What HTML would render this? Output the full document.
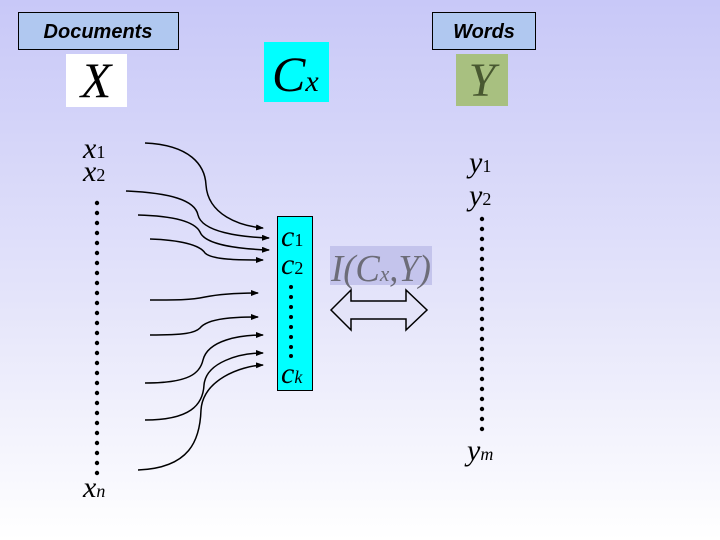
<!DOCTYPE html>
<html><head><meta charset="utf-8"><style>
html,body{margin:0;padding:0;width:720px;height:540px;overflow:hidden;}
html{background:linear-gradient(#c8c8f8 0%,#e4e4fa 55%,#ffffff 100%) no-repeat;background-size:720px 540px;}
svg{display:block;}
</style></head><body>
<svg width="720" height="540" xmlns="http://www.w3.org/2000/svg">
<defs>
<marker id="ah" markerWidth="8" markerHeight="6" refX="7" refY="3" orient="auto" markerUnits="userSpaceOnUse">
<path d="M0,0 L8,3 L0,6 Z" fill="#000"/></marker>
</defs>
<rect x="18.5" y="12.5" width="160" height="37" fill="#b0c8f0" stroke="#000"/>
<text x="98" y="38" text-anchor="middle" font-family="Liberation Sans" font-style="italic" font-weight="bold" font-size="20">Documents</text>
<rect x="432.5" y="12.5" width="103" height="37" fill="#b0c8f0" stroke="#000"/>
<text x="484" y="38" text-anchor="middle" font-family="Liberation Sans" font-style="italic" font-weight="bold" font-size="20">Words</text>
<rect x="66" y="54" width="61" height="53" fill="#fff"/>
<text x="96" y="97" text-anchor="middle" font-family="Liberation Serif" font-style="italic" font-size="50">X</text>
<rect x="264" y="42" width="65" height="60" fill="#00ffff"/>
<text x="272" y="91" font-family="Liberation Serif" font-style="italic" font-size="50">C<tspan font-size="30">x</tspan></text>
<rect x="456" y="54" width="52" height="52" fill="#a8c080"/>
<text x="482" y="96" text-anchor="middle" font-family="Liberation Serif" font-style="italic" font-size="48" fill="#485830">Y</text>
<g font-family="Liberation Serif" font-size="30" font-style="italic">
<text x="83" y="158">x<tspan font-style="normal" font-size="18">1</tspan></text>
<text x="83" y="181">x<tspan font-style="normal" font-size="18">2</tspan></text>
<text x="83" y="497">x<tspan font-size="18">n</tspan></text>
<text x="469" y="172">y<tspan font-style="normal" font-size="18">1</tspan></text>
<text x="469" y="205">y<tspan font-style="normal" font-size="18">2</tspan></text>
<text x="467" y="460">y<tspan font-size="18">m</tspan></text>
</g>
<rect x="277.5" y="216.5" width="35" height="174" fill="#00ffff" stroke="#000"/>
<g font-family="Liberation Serif" font-size="30" font-style="italic">
<text x="281" y="246">c<tspan font-style="normal" font-size="18">1</tspan></text>
<text x="281" y="274">c<tspan font-style="normal" font-size="18">2</tspan></text>
<text x="281" y="383">c<tspan font-size="18">k</tspan></text>
</g>
<g fill="#000">
<circle cx="97" cy="203" r="2.2"/><circle cx="97" cy="213" r="2.2"/><circle cx="97" cy="223" r="2.2"/><circle cx="97" cy="233" r="2.2"/><circle cx="97" cy="243" r="2.2"/><circle cx="97" cy="253" r="2.2"/><circle cx="97" cy="263" r="2.2"/><circle cx="97" cy="273" r="2.2"/><circle cx="97" cy="283" r="2.2"/><circle cx="97" cy="293" r="2.2"/><circle cx="97" cy="303" r="2.2"/><circle cx="97" cy="313" r="2.2"/><circle cx="97" cy="323" r="2.2"/><circle cx="97" cy="333" r="2.2"/><circle cx="97" cy="343" r="2.2"/><circle cx="97" cy="353" r="2.2"/><circle cx="97" cy="363" r="2.2"/><circle cx="97" cy="373" r="2.2"/><circle cx="97" cy="383" r="2.2"/><circle cx="97" cy="393" r="2.2"/><circle cx="97" cy="403" r="2.2"/><circle cx="97" cy="413" r="2.2"/><circle cx="97" cy="423" r="2.2"/><circle cx="97" cy="433" r="2.2"/><circle cx="97" cy="443" r="2.2"/><circle cx="97" cy="453" r="2.2"/><circle cx="97" cy="463" r="2.2"/><circle cx="97" cy="473" r="2.2"/>
<circle cx="482" cy="219" r="2.2"/><circle cx="482" cy="229" r="2.2"/><circle cx="482" cy="239" r="2.2"/><circle cx="482" cy="249" r="2.2"/><circle cx="482" cy="259" r="2.2"/><circle cx="482" cy="269" r="2.2"/><circle cx="482" cy="279" r="2.2"/><circle cx="482" cy="289" r="2.2"/><circle cx="482" cy="299" r="2.2"/><circle cx="482" cy="309" r="2.2"/><circle cx="482" cy="319" r="2.2"/><circle cx="482" cy="329" r="2.2"/><circle cx="482" cy="339" r="2.2"/><circle cx="482" cy="349" r="2.2"/><circle cx="482" cy="359" r="2.2"/><circle cx="482" cy="369" r="2.2"/><circle cx="482" cy="379" r="2.2"/><circle cx="482" cy="389" r="2.2"/><circle cx="482" cy="399" r="2.2"/><circle cx="482" cy="409" r="2.2"/><circle cx="482" cy="419" r="2.2"/><circle cx="482" cy="429" r="2.2"/>
<circle cx="291" cy="287" r="2"/><circle cx="291" cy="297" r="2"/><circle cx="291" cy="307" r="2"/><circle cx="291" cy="317" r="2"/><circle cx="291" cy="327" r="2"/><circle cx="291" cy="337" r="2"/><circle cx="291" cy="347" r="2"/><circle cx="291" cy="356" r="2"/>
</g>
<g fill="none" stroke="#000" stroke-width="1.5" marker-end="url(#ah)">
<path d="M145,143 C190,145 205,165 206,185 C208,215 240,226 263,228"/>
<path d="M126,191 C170,193 195,200 198,215 C202,232 240,237 269,238"/>
<path d="M138,215 C175,216 195,222 200,232 C205,245 240,249 269,250"/>
<path d="M150,239 C180,240 200,245 205,253 C212,260 240,260 263,260"/>
<path d="M150,300 C180,300 190,300 205,297 C220,294 240,293 258,293"/>
<path d="M150,335 C185,335 195,333 200,328 C208,318 235,317 258,317"/>
<path d="M145,383 C190,383 200,373 203,360 C208,340 240,335 263,335"/>
<path d="M145,420 C190,420 203,405 204,385 C206,362 240,353 263,353"/>
<path d="M138,470 C190,468 200,440 201,410 C203,380 240,366 263,365"/>
</g>
<rect x="330" y="246" width="102" height="39" fill="#c4c4ec"/>
<text x="331" y="281" font-family="Liberation Serif" font-style="italic" font-size="38" fill="#6c6c78" textLength="100" lengthAdjust="spacingAndGlyphs">I(C<tspan font-size="22">x</tspan>,Y)</text>
<path d="M331,310 L351,290 L351,301 L406,301 L406,290 L427,310 L406,330 L406,319 L351,319 L351,330 Z" fill="#e4e4f8" stroke="#000" stroke-width="1.5"/>
</svg>
</body></html>
